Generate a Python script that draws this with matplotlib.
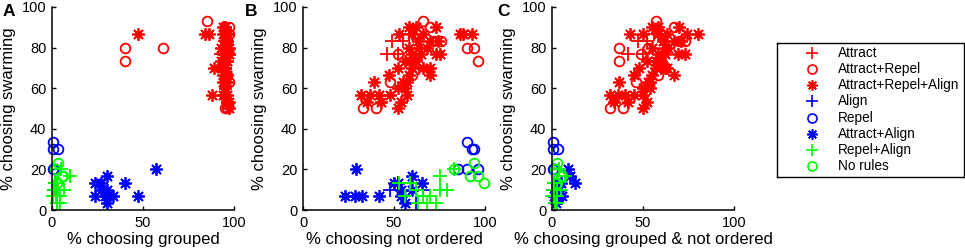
import matplotlib.pyplot as plt

plt.rcParams['font.family'] = ['Liberation Sans', 'DejaVu Sans']

labels = ['Attract', 'Attract+Repel', 'Attract+Repel+Align', 'Align',
          'Repel', 'Attract+Align', 'Repel+Align', 'No rules']

# per rule set: % grouped, % not ordered, % grouped & not ordered, % swarming
attract_grp = [95, 93, 96, 95, 94, 96]
attract_nord = [49, 46, 52, 55, 64, 58]
attract_both = [47, 42, 50, 52, 60, 56]
attract_swarm = [83.3, 76.7, 76.7, 83.3, 70, 86.7]

attrep_grp = [85, 40, 40, 61, 97, 96, 95, 96, 95, 97, 96, 97, 96]
attrep_nord = [66, 90, 96, 94, 48, 33, 40, 72, 76, 70, 52, 62, 60]
attrep_both = [57, 37, 37, 53, 46, 32, 39, 70, 73, 67, 49, 60, 58]
attrep_swarm = [93.3, 80, 73.3, 80, 63.3, 50, 50, 83.3, 83.3, 90, 76.7, 86.7, 66.7]

all3_grp = [95, 96, 94, 95, 88, 96, 97, 96, 95, 95, 96, 94, 95, 89, 96, 93, 95,
            94, 97, 93, 96, 95, 94, 96, 47, 86, 95, 94, 96, 95, 93, 96, 95, 97,
            95, 94, 84, 96, 95, 97, 96, 95, 97]
all3_nord = [32, 37, 42, 48, 57, 35, 52, 54, 39, 47, 55, 58, 60, 70, 62, 56, 65,
             73, 75, 58, 63, 70, 53, 60, 93, 88, 73, 62, 66, 56, 52, 70, 68, 60,
             66, 57, 86, 74, 58, 64, 59, 52, 43]
all3_both = [32, 36, 40, 45, 50, 34, 50, 52, 37, 45, 53, 55, 57, 62, 60, 52, 62,
             69, 73, 55, 61, 67, 50, 58, 43, 80, 70, 58, 63, 54, 48, 67, 64, 58,
             63, 54, 74, 71, 55, 62, 57, 50, 42]
all3_swarm = [56.7, 56.7, 56.7, 56.7, 56.7, 53.3, 50, 53.3, 63.3, 66.7, 63.3,
              66.7, 70, 70, 73.3, 73.3, 76.7, 76.7, 76.7, 80, 83.3, 83.3, 86.7,
              86.7, 86.7, 86.7, 90, 90, 86.7, 60, 70, 66.7, 80, 76.7, 70, 63.3,
              86.7, 83.3, 90, 80, 73.3, 60, 53.3]

align_grp = [2, 1.5, 3, 2.5, 1]
align_nord = [48, 52, 56, 62, 66]
align_both = [1, 1, 2, 1.5, 0.5]
align_swarm = [10, 13.3, 6.7, 3.3, 10]

repel_grp = [0.5, 0.5, 3.5, 0.5, 1, 1.5]
repel_nord = [90, 93, 94, 85, 90, 96]
repel_both = [0.5, 0.5, 3.3, 0.5, 1, 1.5]
repel_swarm = [33.3, 30, 30, 20, 20, 20]

attalign_grp = [57, 30, 23.5, 40, 27, 27, 30, 30, 23.5, 33.5, 47, 30, 29]
attalign_nord = [29, 60, 65.6, 50, 52, 54, 60, 23, 28.7, 32.4, 42, 56, 54]
attalign_both = [9, 10, 12.7, 5, 3, 2, 4, 1, 2, 5.4, 3, 2, 4]
attalign_swarm = [20, 16.7, 13.3, 13.3, 13.3, 10, 10, 6.7, 6.7, 6.7, 6.7, 3.3, 6.7]

repalign_grp = [2.5, 4.4, 2.5, 9.8, 6.5, 0.3, 4.4, 3, 5, 1.5, 3.5, 1, 2]
repalign_nord = [53, 56, 63, 75, 79, 70, 68, 73, 83, 59, 75, 62, 66]
repalign_both = [1, 2.5, 1.5, 7, 5, 0, 3, 2, 4, 1, 2.5, 0.5, 1]
repalign_swarm = [13.3, 6.7, 3.3, 16.7, 10, 6.7, 3.3, 3.3, 20, 13.3, 10, 10, 6.7]

norules_grp = [3.5, 5.3, 2.9, 1.5, 6]
norules_nord = [94, 96, 99.6, 83, 92]
norules_both = [3, 5, 3, 1.5, 5.5]
norules_swarm = [23.3, 16.7, 13.3, 20, 16.7]

groups = [
    (attract_grp, attract_nord, attract_both, attract_swarm),
    (attrep_grp, attrep_nord, attrep_both, attrep_swarm),
    (all3_grp, all3_nord, all3_both, all3_swarm),
    (align_grp, align_nord, align_both, align_swarm),
    (repel_grp, repel_nord, repel_both, repel_swarm),
    (attalign_grp, attalign_nord, attalign_both, attalign_swarm),
    (repalign_grp, repalign_nord, repalign_both, repalign_swarm),
    (norules_grp, norules_nord, norules_both, norules_swarm),
]

colors = ['#ff0000', '#ff0000', '#ff0000', '#0000ff', '#0000ff', '#0000ff',
          '#00ff00', '#00ff00']
markers = ['+', 'o', (8, 2, 0), '+', 'o', (8, 2, 0), '+', 'o']
sizes = [10, 7, 9, 10, 7, 9, 10, 7]

xlabels = ['% choosing grouped', '% choosing not ordered',
           '% choosing grouped & not ordered']
letters = ['A', 'B', 'C']

W, H = 965, 252
fig = plt.figure(figsize=(W / 100, H / 100), dpi=100)

lefts = [52, 303, 552]
letter_x = [3, 245, 497]
for k in range(3):
    ax = fig.add_axes([lefts[k] / W, 1 - 210 / H, 182 / W, 203 / H])
    for g, c, m, s in zip(groups, colors, markers, sizes):
        ax.plot(g[k], g[3], linestyle='none', marker=m, ms=s, mew=1.3,
                mec=c, mfc='none', color=c, clip_on=False)
    ax.set_xlim(0, 100)
    ax.set_ylim(0, 100)
    ax.set_xticks([0, 50, 100])
    ax.set_yticks([0, 20, 40, 60, 80, 100])
    ax.spines['top'].set_visible(False)
    ax.spines['right'].set_visible(False)
    for sp in ['left', 'bottom']:
        ax.spines[sp].set_linewidth(1.1)
    ax.tick_params(direction='in', length=3, width=1, labelsize=10.5, pad=4)
    ax.set_xlabel(xlabels[k], fontsize=12, labelpad=2)
    ax.set_ylabel('% choosing swarming', fontsize=12, labelpad=4)
    fig.text(letter_x[k] / W, 1 - 11 / H, letters[k], fontsize=12.5,
             fontweight='bold', va='center', ha='left')

# legend box
lg = fig.add_axes([777 / W, 1 - 177 / H, 187 / W, 134 / H])
lg.set_xlim(0, 187)
lg.set_ylim(134, 0)
lg.set_xticks([])
lg.set_yticks([])
for sp in lg.spines.values():
    sp.set_linewidth(1.0)
leg_sizes = [8.5, 6.5, 7.5, 8.5, 6.5, 7.5, 8.5, 6.5]
for i, (lab, c, m, s) in enumerate(zip(labels, colors, markers, leg_sizes)):
    y = 10 + i * 16.15
    lg.plot(35, y, linestyle='none', marker=m, ms=s, mew=1.2, mec=c,
            mfc='none', clip_on=False)
    lg.text(61, y, lab, fontsize=9.8, va='center', ha='left')

fig.savefig('out.png', dpi=100)
